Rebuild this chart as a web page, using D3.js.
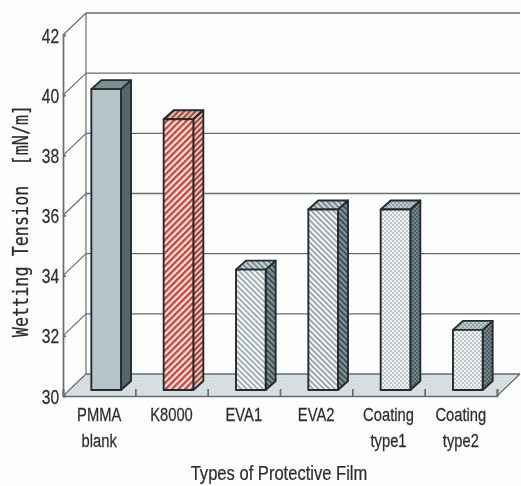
<!DOCTYPE html>
<html>
<head>
<meta charset="utf-8">
<script src="https://cdn.jsdelivr.net/npm/d3@7"></script>
<style>
  html, body { margin: 0; padding: 0; background: #fefefc; overflow: hidden; }
  svg { filter: blur(0.45px); }
  text { font-family: "Liberation Sans", sans-serif; fill: #2a2e2f; stroke: #2a2e2f; stroke-width: 0.25px; }
</style>
</head>
<body>
<div id="chart"></div>
<script>
const categorias = ["PMMA|blank", "K8000", "EVA1", "EVA2", "Coating|type1", "Coating|type2"];
const tension = [40, 39, 34, 36, 36, 32];
const yTicks = [30, 32, 34, 36, 38, 40, 42];
const yTitulo = "Wetting Tension  [mN/m]";
const xTitulo = "Types of Protective Film";

const svgWidth = 521, svgHeight = 486;
const margin = { top: 35, right: 497, bottom: 396, left: 63 };
const wallDx = 23, wallDy = 22;      // profundidad de la pared del fondo
const barDx = 7, barDy = 6;          // donde se apoyan las barras en el suelo
const depthX = 10, depthY = 9;       // profundidad de cada barra
const lineColor = "#656d6f", barStroke = "#232b2d";

const svg = d3.select("#chart").append("svg")
    .attr("width", svgWidth)
    .attr("height", svgHeight)
    .style("display", "block");

const x = d3.scaleBand().domain(categorias).range([margin.left, margin.right]).paddingInner(0.59).paddingOuter(0.295);
const xEdge = d3.scaleLinear().domain([0, categorias.length]).range([margin.left, margin.right]);
const y = d3.scaleLinear().domain([30, 42]).range([margin.bottom, margin.top]);

const defs = svg.append("defs");

function stripes(id, size, angle, bg, fg, w) {
    const p = defs.append("pattern").attr("id", id)
        .attr("patternUnits", "userSpaceOnUse")
        .attr("width", size).attr("height", size)
        .attr("patternTransform", `rotate(${angle})`);
    p.append("rect").attr("width", size).attr("height", size).attr("fill", bg);
    p.append("rect").attr("width", w).attr("height", size).attr("fill", fg);
}

function dots(id, size, bg, fg, r) {
    const p = defs.append("pattern").attr("id", id)
        .attr("patternUnits", "userSpaceOnUse")
        .attr("width", size).attr("height", size);
    p.append("rect").attr("width", size).attr("height", size).attr("fill", bg);
    p.append("circle").attr("cx", size / 4).attr("cy", size / 4).attr("r", r).attr("fill", fg);
    p.append("circle").attr("cx", size * 3 / 4).attr("cy", size * 3 / 4).attr("r", r).attr("fill", fg);
}

stripes("redFront", 4.6, 45, "#f6e6df", "#cc4136", 2.3);
stripes("redSide", 4, 45, "#eccabd", "#a23f36", 2);
stripes("redTop", 4, 45, "#e6bcad", "#a8453a", 2);
stripes("evaFront", 3.9, -45, "#f7f8f8", "#8c9ba1", 1.5);
stripes("evaFront2", 3.9, -45, "#f7f8f8", "#8a979c", 1.6);
stripes("evaSide", 4, -45, "#8a9aa0", "#3f5056", 2.2);
stripes("evaTop", 4, -45, "#cdd6d9", "#6f8389", 1.8);
dots("dotFront", 4, "#f4f6f6", "#8b9ba1", 0.85);
dots("dotSide", 4, "#74858b", "#3f5056", 1);
dots("dotTop", 4, "#bcc9cd", "#7c8f96", 0.9);
dots("floorDots", 3, "#dae2e5", "#c3ced2", 0.6);

// Un estilo por categoria: frente, lado, tapa
const estilos = [
    { front: "#b6c4ca", side: "#55666b", top: "#7b8d8f" },
    { front: "url(#redFront)", side: "url(#redSide)", top: "url(#redTop)" },
    { front: "url(#evaFront)", side: "url(#evaSide)", top: "url(#evaTop)" },
    { front: "url(#evaFront2)", side: "url(#evaSide)", top: "url(#evaTop)" },
    { front: "url(#dotFront)", side: "url(#dotSide)", top: "url(#dotTop)" },
    { front: "url(#dotFront)", side: "url(#dotSide)", top: "url(#dotTop)" }
];

const pts = a => a.map(p => p.join(",")).join(" ");

// Suelo
svg.append("polygon")
    .attr("points", pts([[margin.left, margin.bottom], [margin.right, margin.bottom], [margin.right + wallDx, margin.bottom - wallDy], [margin.left + wallDx, margin.bottom - wallDy]]))
    .attr("fill", "url(#floorDots)");

// Lineas de rejilla: pared del fondo y pared izquierda
svg.append("g").selectAll("line.back")
    .data(yTicks)
    .enter().append("line")
    .attr("x1", margin.left + wallDx).attr("x2", margin.right + wallDx)
    .attr("y1", d => y(d) - wallDy).attr("y2", d => y(d) - wallDy)
    .attr("stroke", lineColor).attr("stroke-width", 1.4);

svg.append("g").selectAll("line.wall")
    .data(yTicks)
    .enter().append("line")
    .attr("x1", margin.left).attr("x2", margin.left + wallDx)
    .attr("y1", d => y(d)).attr("y2", d => y(d) - wallDy)
    .attr("stroke", lineColor).attr("stroke-width", 1.2);

svg.append("line")
    .attr("x1", margin.left + wallDx).attr("x2", margin.left + wallDx)
    .attr("y1", y(42) - wallDy).attr("y2", margin.bottom - wallDy)
    .attr("stroke", lineColor).attr("stroke-width", 1.2);

svg.append("line")
    .attr("x1", margin.right).attr("x2", margin.right + wallDx)
    .attr("y1", margin.bottom).attr("y2", margin.bottom - wallDy)
    .attr("stroke", lineColor).attr("stroke-width", 1.2);

// Ejes
const yAxis = svg.append("g")
    .attr("transform", `translate(${margin.left},0)`)
    .call(d3.axisLeft(y).tickValues(yTicks).tickSize(-3).tickPadding(5).tickFormat(d3.format("d")));
yAxis.selectAll("text")
    .style("font-size", "20px")
    .attr("dy", "0.35em")
    .attr("transform", "scale(0.78,1)");

const xAxis = svg.append("g")
    .attr("transform", `translate(0,${margin.bottom})`)
    .call(d3.axisBottom(xEdge).ticks(categorias.length).tickSize(-7).tickFormat(""));

[yAxis, xAxis].forEach(g => {
    g.selectAll("path, line").attr("stroke", lineColor).attr("stroke-width", 1.7);
});

// Barras
const barras = svg.append("g").selectAll("g")
    .data(categorias.map((c, i) => ({ cat: c, valor: tension[i], estilo: estilos[i] })))
    .enter().append("g")
    .attr("stroke", barStroke)
    .attr("stroke-width", 1.9)
    .attr("stroke-linejoin", "round");

const bx0 = d => x(d.cat) + barDx;
const bx1 = d => bx0(d) + x.bandwidth();
const by0 = d => y(d.valor) - barDy;
const by1 = () => y(30) - barDy;

barras.append("polygon")
    .attr("points", d => pts([[bx1(d), by0(d)], [bx1(d) + depthX, by0(d) - depthY], [bx1(d) + depthX, by1() - depthY], [bx1(d), by1()]]))
    .attr("fill", d => d.estilo.side);

barras.append("polygon")
    .attr("points", d => pts([[bx0(d), by0(d)], [bx0(d) + depthX, by0(d) - depthY], [bx1(d) + depthX, by0(d) - depthY], [bx1(d), by0(d)]]))
    .attr("fill", d => d.estilo.top);

barras.append("rect")
    .attr("x", bx0)
    .attr("y", by0)
    .attr("width", x.bandwidth())
    .attr("height", d => by1() - by0(d))
    .attr("fill", d => d.estilo.front);

// Etiquetas de categoria en dos lineas (texto estrecho con scale)
const etiquetas = svg.append("g").selectAll("text")
    .data(categorias.flatMap(c => c.split("|").map((t, i) => ({ cat: c, t, linea: i }))))
    .enter().append("text")
    .attr("text-anchor", "middle")
    .attr("transform", d => `translate(${x(d.cat) + x.bandwidth() / 2},${margin.bottom + (d.linea === 0 ? 25 : 51)}) scale(0.82,1)`)
    .style("font-size", "18px")
    .text(d => d.t);

// Titulos
svg.append("text")
    .attr("transform", `translate(279,480) scale(0.85,1)`)
    .attr("text-anchor", "middle")
    .style("font-size", "19.5px")
    .text(xTitulo);

svg.append("text")
    .attr("transform", `translate(28,221) rotate(-90) scale(0.8,1)`)
    .attr("text-anchor", "middle")
    .style("font-family", "'DejaVu Sans Mono', monospace")
    .style("font-size", "21px")
    .style("white-space", "pre")
    .text(yTitulo);
</script>
</body>
</html>
